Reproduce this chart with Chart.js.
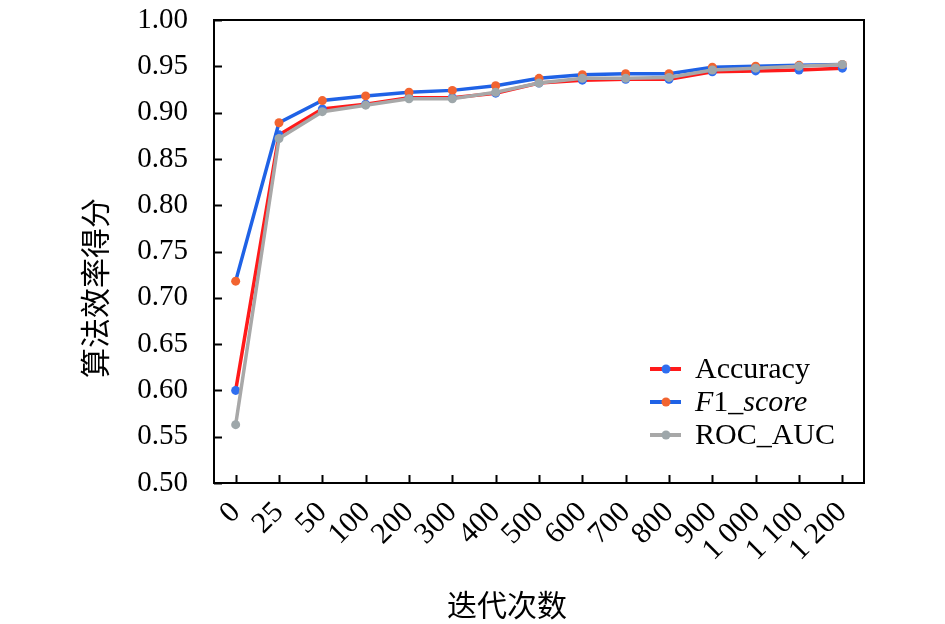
<!DOCTYPE html>
<html>
<head>
<meta charset="utf-8">
<script src="https://cdn.jsdelivr.net/npm/chart.js@4"></script>
<style>
    html, body { margin: 0; padding: 0; background: #fff; }
    #wrap { width: 945px; height: 624px; }
</style>
</head>
<body>
<div id="wrap"><canvas id="scoreChart"></canvas></div>
<script>
// Data
const iterations = ['0', '25', '50', '100', '200', '300', '400', '500', '600', '700', '800', '900', '1 000', '1 100', '1 200'];
const accuracy = [0.600, 0.876, 0.904, 0.909, 0.916, 0.916, 0.921, 0.932, 0.935, 0.936, 0.936, 0.944, 0.945, 0.946, 0.948];
const f1Score = [0.718, 0.889, 0.913, 0.918, 0.922, 0.924, 0.929, 0.937, 0.941, 0.942, 0.942, 0.949, 0.950, 0.951, 0.952];
const rocAuc = [0.563, 0.872, 0.901, 0.908, 0.915, 0.915, 0.922, 0.932, 0.937, 0.937, 0.938, 0.946, 0.948, 0.950, 0.952];
const yTicks = [0.50, 0.55, 0.60, 0.65, 0.70, 0.75, 0.80, 0.85, 0.90, 0.95, 1.00];

const serif = '"Liberation Serif", "Times New Roman", serif';
const cjk = '"Noto Sans CJK SC", sans-serif';

// Frame, inward ticks, axis titles and legend
const decorations = {
    id: 'decorations',
    afterDraw(chart) {
        const ctx = chart.ctx;
        const area = chart.chartArea;
        const xs = chart.scales.x;
        const ys = chart.scales.y;
        ctx.save();
        ctx.strokeStyle = '#000';
        ctx.lineWidth = 2;
        ctx.strokeRect(area.left, area.top, area.right - area.left, area.bottom - area.top);

        // inward tick marks
        ctx.beginPath();
        xs.ticks.forEach((t, i) => {
            const px = Math.round(xs.getPixelForTick(i)) + 0.5;
            ctx.moveTo(px, area.bottom);
            ctx.lineTo(px, area.bottom - 8);
        });
        yTicks.forEach(v => {
            const py = Math.round(ys.getPixelForValue(v)) + 0.5;
            ctx.moveTo(area.left, py);
            ctx.lineTo(area.left + 8, py);
        });
        ctx.stroke();

        // axis titles
        ctx.fillStyle = '#000';
        ctx.font = '30px ' + cjk;
        ctx.textAlign = 'center';
        ctx.textBaseline = 'middle';
        ctx.fillText('迭代次数', 507, 605);
        ctx.translate(95, 288);
        ctx.rotate(-Math.PI / 2);
        ctx.fillText('算法效率得分', 0, 0);
        ctx.restore();

        // legend
        ctx.save();
        const rows = [
            { line: '#ff1a1a', dot: '#2f6ef0', parts: [['Accuracy', false]] },
            { line: '#1f62e6', dot: '#f26430', parts: [['F', true], ['1_', false], ['score', true]] },
            { line: '#a8a8a8', dot: '#9ea7aa', parts: [['ROC_AUC', false]] }
        ];
        rows.forEach((r, i) => {
            const y = 369 + i * 33;
            ctx.strokeStyle = r.line;
            ctx.lineWidth = 4;
            ctx.beginPath();
            ctx.moveTo(650, y);
            ctx.lineTo(681, y);
            ctx.stroke();
            ctx.fillStyle = r.dot;
            ctx.beginPath();
            ctx.arc(666, y, 4.5, 0, Math.PI * 2);
            ctx.fill();
            ctx.fillStyle = '#000';
            ctx.textBaseline = 'alphabetic';
            ctx.textAlign = 'left';
            let x = 695;
            r.parts.forEach(([txt, italic]) => {
                ctx.font = (italic ? 'italic ' : '') + '30px ' + serif;
                ctx.fillText(txt, x, y + 9);
                x += ctx.measureText(txt).width;
            });
        });
        ctx.restore();
    }
};

function makeSet(label, data, line, dot, order) {
    return {
        label: label,
        data: data,
        borderColor: line,
        backgroundColor: dot,
        pointBackgroundColor: dot,
        pointBorderColor: dot,
        pointBorderWidth: 0,
        pointRadius: 4.5,
        borderWidth: 3.5,
        tension: 0,
        order: order
    };
}

new Chart(document.getElementById('scoreChart'), {
    type: 'line',
    data: {
        labels: iterations,
        datasets: [
            makeSet('Accuracy', accuracy, '#ff1a1a', '#2f6ef0', 3),
            makeSet('F1_score', f1Score, '#1f62e6', '#f26430', 2),
            makeSet('ROC_AUC', rocAuc, '#a8a8a8', '#9ea7aa', 1)
        ]
    },
    options: {
        responsive: true,
        maintainAspectRatio: false,
        animation: false,
        layout: {
            padding: { left: 0, right: 81, top: 20, bottom: 0 }
        },
        plugins: {
            legend: { display: false },
            tooltip: { enabled: false }
        },
        scales: {
            x: {
                type: 'category',
                offset: true,
                grid: { display: false, drawTicks: false, tickLength: 0 },
                border: { display: false },
                ticks: {
                    color: '#000',
                    font: { family: serif, size: 30 },
                    minRotation: 45,
                    maxRotation: 45,
                    autoSkip: false,
                    padding: 12
                },
                afterFit: function(scale) {
                    scale.height = 141;
                    scale.paddingLeft = 0;
                    scale.paddingRight = 0;
                }
            },
            y: {
                min: 0.5,
                max: 1.0,
                grid: { display: false, drawTicks: false, tickLength: 0 },
                border: { display: false },
                ticks: {
                    stepSize: 0.05,
                    color: '#000',
                    font: { family: serif, size: 29 },
                    padding: 26,
                    callback: function(value) {
                        return Number(value).toFixed(2);
                    }
                },
                afterFit: function(scale) {
                    scale.width = 214;
                    scale.paddingTop = 0;
                    scale.paddingBottom = 0;
                }
            }
        }
    },
    plugins: [decorations]
});
</script>
</body>
</html>
